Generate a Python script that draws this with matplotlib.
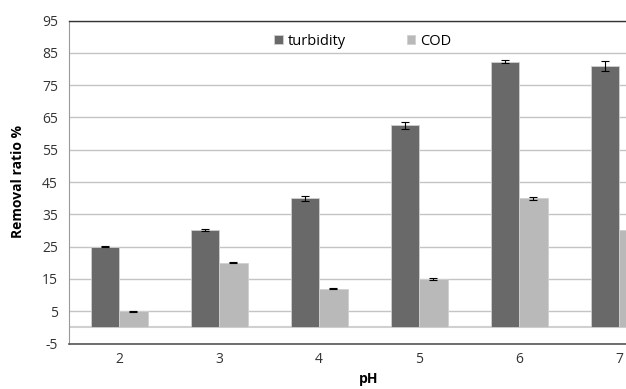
import numpy as np
import matplotlib.pyplot as plt

# removal ratio (%) at each pH, with error bars
ph = ["2", "3", "4", "5", "6", "7"]
turbidity = [25.0, 30.0, 40.0, 62.5, 82.3, 81.0]
turbidity_err = [0.2, 0.3, 0.8, 1.2, 0.4, 1.5]
cod = [5.0, 20.0, 12.0, 15.0, 40.0, 30.0]
cod_err = [0.1, 0.15, 0.1, 0.3, 0.5, 0.5]

plt.rcParams["font.family"] = ["Open Sans", "DejaVu Sans"]
plt.rcParams["axes.unicode_minus"] = False

fig = plt.figure(figsize=(6.26, 3.89), dpi=100)
# plot area runs a bit past the right edge of the figure
ax = fig.add_axes([69 / 626, 1 - 343.5 / 389, 600 / 626, 323 / 389])

x = np.arange(len(ph))
w = 0.285
ax.bar(x - w / 2, turbidity, w, color="#696969", edgecolor="#d0d0d0", lw=0.6,
       yerr=turbidity_err, capsize=3, error_kw=dict(ecolor="black", lw=0.8, capthick=0.8),
       label="turbidity", zorder=3)
ax.bar(x + w / 2, cod, w, color="#b9b9b9", edgecolor="#d0d0d0", lw=0.6,
       yerr=cod_err, capsize=3, error_kw=dict(ecolor="black", lw=0.8, capthick=0.8),
       label="COD", zorder=3)

ax.set_xlim(-0.5, len(ph) - 0.5)
ax.set_ylim(-5, 95)
ax.set_yticks(np.arange(-5, 96, 10))
ax.set_xticks(x)
ax.set_xticklabels(ph)
ax.tick_params(axis="both", length=0, labelsize=10, colors="#333333")
ax.tick_params(axis="x", pad=6)
ax.tick_params(axis="y", pad=8)

ax.yaxis.grid(True, color="#c4c4c4", lw=1)
ax.axhline(0, color="#d0d0d0", lw=1.5, zorder=2)
ax.set_axisbelow(True)

ax.spines["top"].set_color("#333333")
ax.spines["bottom"].set_color("#555555")
ax.spines["left"].set_color("#999999")
ax.spines["right"].set_visible(False)
ax.spines["top"].set_linewidth(1)
ax.spines["bottom"].set_linewidth(1.2)

ax.set_ylabel("Removal ratio %", fontsize=10, fontweight="bold", labelpad=12)
ax.set_xlabel("pH", fontsize=10, fontweight="bold", labelpad=4)

leg = ax.legend(loc="upper left", bbox_to_anchor=(0.32, 1.0), ncol=2, frameon=False,
                fontsize=10.5, handlelength=0.6, handleheight=0.6, handletextpad=0.3,
                columnspacing=4.2)

fig.savefig("out.png", dpi=100)
